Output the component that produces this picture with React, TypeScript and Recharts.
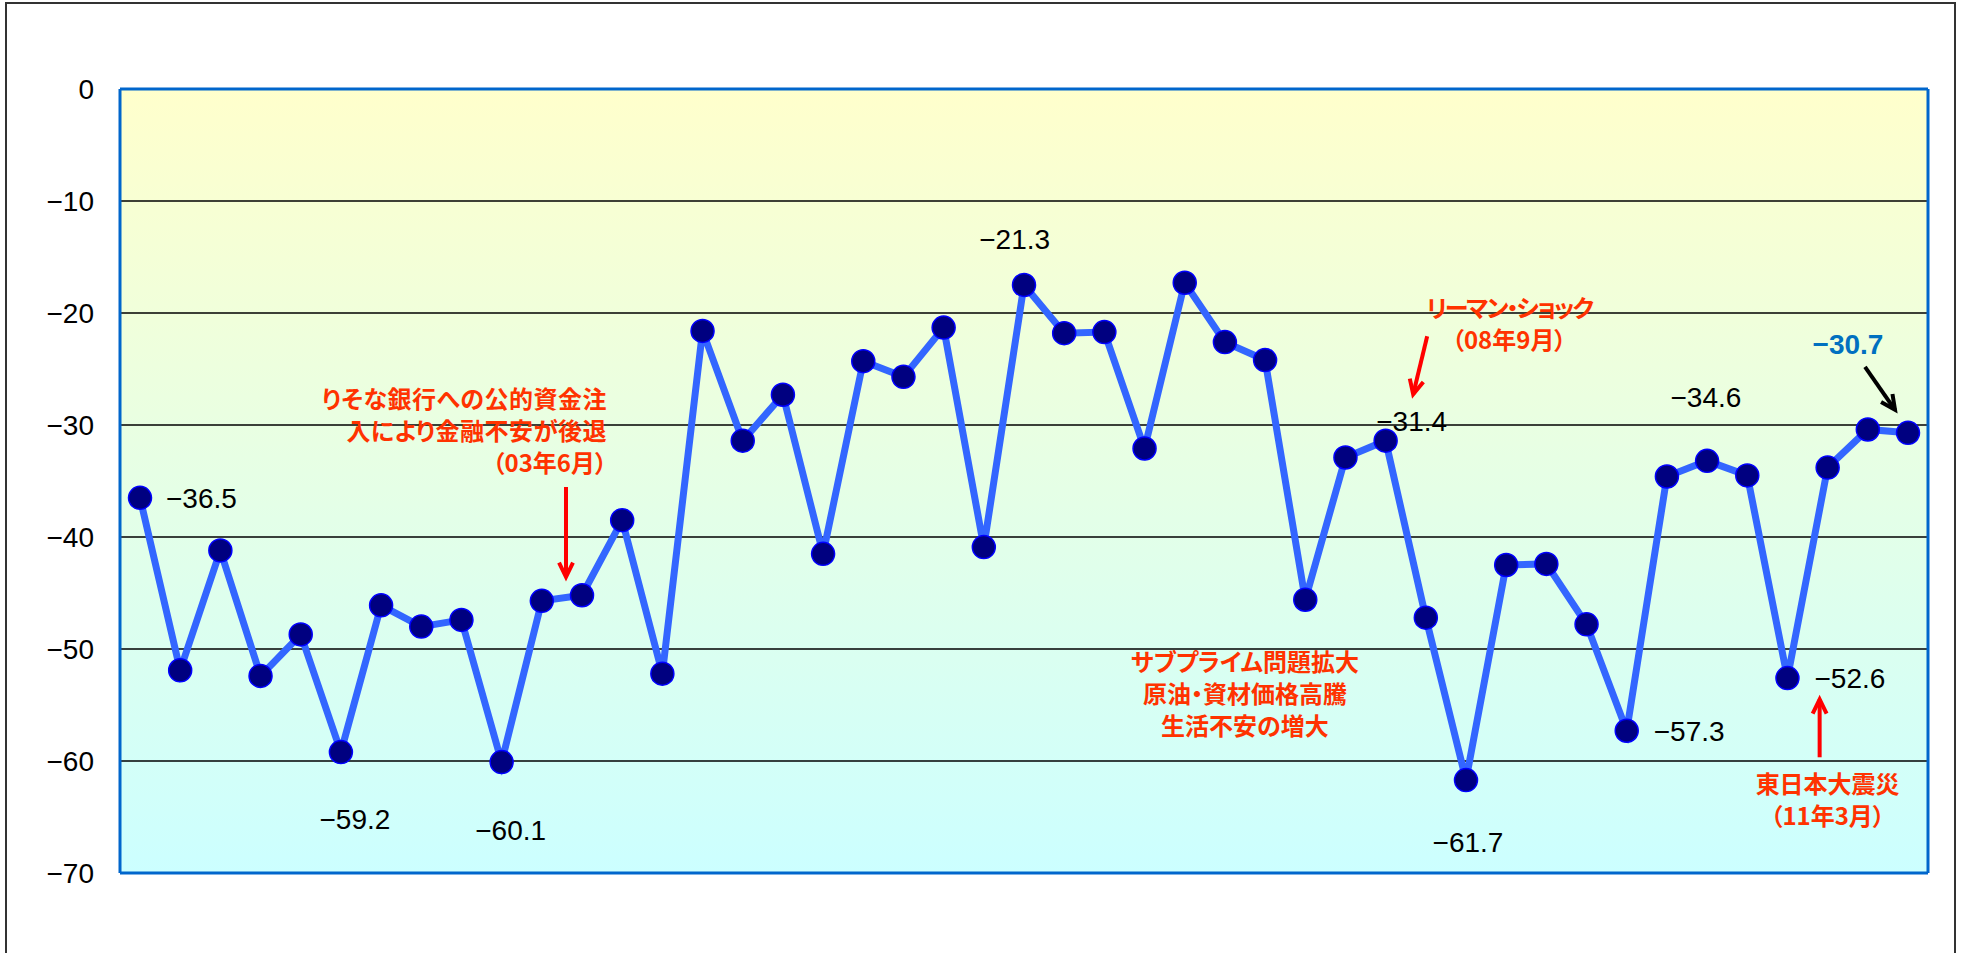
import React from 'react';
import {
  LineChart,
  Line,
  XAxis,
  YAxis,
  CartesianGrid,
  ReferenceDot,
  LabelList,
} from 'recharts';

// survey months (quarterly), x axis is not labelled in the picture
const periods = [
  '00年11月', '01年2月', '01年5月', '01年8月', '01年11月',
  '02年2月', '02年5月', '02年8月', '02年11月',
  '03年2月', '03年5月', '03年8月', '03年11月',
  '04年2月', '04年5月', '04年8月', '04年11月',
  '05年2月', '05年5月', '05年8月', '05年11月',
  '06年2月', '06年5月', '06年8月', '06年11月',
  '07年2月', '07年5月', '07年8月', '07年11月',
  '08年2月', '08年5月', '08年8月', '08年11月',
  '09年2月', '09年5月', '09年8月', '09年11月',
  '10年2月', '10年5月', '10年8月', '10年11月',
  '11年2月', '11年5月', '11年8月', '11年11月',
];

const values = [
  -36.5, -51.9, -41.2, -52.4, -48.7, -59.2, -46.1, -48.0, -47.4, -60.1,
  -45.7, -45.2, -38.5, -52.2, -21.6, -31.4, -27.3, -41.5, -24.3, -25.7,
  -21.3, -40.9, -17.5, -21.8, -21.7, -32.1, -17.3, -22.6, -24.2, -45.6,
  -32.9, -31.4, -47.2, -61.7, -42.5, -42.4, -47.8, -57.3, -34.6, -33.2,
  -34.5, -52.6, -33.8, -30.4, -30.7,
];

const yTicks = [0, -10, -20, -30, -40, -50, -60, -70];

// indexes of points whose value is printed
const labelledPoints = [0, 5, 9, 20, 31, 33, 37, 38, 41, 44];

// event notes: category, y value, lines
const notes = [
  { x: '03年8月', y: -27.5, lines: ['りそな銀行への公的資金注', '入により金融不安が後退', '（03年6月）'] },
  { x: '07年8月', y: -51.0, lines: ['サブプライム問題拡大', '原油・資材価格高騰', '生活不安の増大'] },
  { x: '09年5月', y: -19.4, lines: ['リーマン・ショック', '（08年9月）'] },
  { x: '11年5月', y: -61.9, lines: ['東日本大震災', '（11年3月）'] },
];

const data = periods.map((p, i) => ({ period: p, value: values[i] }));

const NUM_FONT = "'Liberation Sans', Arial, sans-serif";
const JP_FONT = "'Noto Sans CJK JP', 'Noto Sans', sans-serif";
const NOTE_RED = '#FF3300';
const FRAME_BLUE = '#0066CC';

const fmt = (v: number) => (v < 0 ? '\u2212' + Math.abs(v).toFixed(1) : v.toFixed(1));

// label placement relative to its point
const labelPos: Record<number, { dx: number; dy: number; anchor: string; color?: string; bold?: boolean }> = {
  0: { dx: 26, dy: 1, anchor: 'start' },
  5: { dx: 14, dy: 67, anchor: 'middle' },
  9: { dx: 9, dy: 68, anchor: 'middle' },
  20: { dx: 71, dy: -88, anchor: 'middle' },
  31: { dx: 26, dy: -19, anchor: 'middle' },
  33: { dx: 2, dy: 62, anchor: 'middle' },
  37: { dx: 27, dy: 1, anchor: 'start' },
  38: { dx: 39, dy: -79, anchor: 'middle' },
  41: { dx: 27, dy: 0, anchor: 'start' },
  44: { dx: -60, dy: -88, anchor: 'middle', color: '#0070C0', bold: true },
};

const ValueLabel = (props: any) => {
  const { x, y, index, value } = props;
  if (!labelledPoints.includes(index)) return null;
  const p = labelPos[index];
  return (
    <text
      x={x + p.dx}
      y={y + p.dy}
      textAnchor={p.anchor as any}
      dominantBaseline="central"
      fontFamily={NUM_FONT}
      fontSize={28}
      fontWeight={p.bold ? 'bold' : 'normal'}
      fill={p.color || '#000'}
    >
      {fmt(value)}
    </text>
  );
};

const Arrow = ({ x1, y1, x2, y2, color }: { x1: number; y1: number; x2: number; y2: number; color: string }) => {
  const a = Math.atan2(y2 - y1, x2 - x1);
  const h = 16;
  const s = 0.45;
  const p1 = [x2 - h * Math.cos(a - s), y2 - h * Math.sin(a - s)];
  const p2 = [x2 - h * Math.cos(a + s), y2 - h * Math.sin(a + s)];
  return (
    <g stroke={color} strokeWidth={4} fill="none">
      <line x1={x1} y1={y1} x2={x2} y2={y2} />
      <polyline points={`${p1[0]},${p1[1]} ${x2},${y2} ${p2[0]},${p2[1]}`} />
    </g>
  );
};

// layout of each note relative to its anchor
const noteLayout = [
  { dx: 25, anchor: 'end', spacing: [0.5, 0.5, 0], arrows: [{ x1: -16, y1: 90, x2: -16, y2: 180, color: '#FF0000' }] },
  { dx: 20, anchor: 'middle', spacing: [0, 0, 0], arrows: [] },
  { dx: 3, anchor: 'middle', spacing: [-2, 0], arrows: [{ x1: -79, y1: 30, x2: -93, y2: 88, color: '#FF0000' }] },
  { dx: 0, anchor: 'middle', spacing: [0, 0], arrows: [{ x1: -8, y1: -25, x2: -8, y2: -83, color: '#FF0000' }] },
];

const makeNote = (n: typeof notes[number], i: number) => (props: any) => {
  const { cx, cy } = props;
  const l = noteLayout[i];
  return (
    <g>
      {n.lines.map((t, k) => (
        <text
          key={k}
          x={cx + l.dx}
          y={cy + k * 32}
          textAnchor={l.anchor as any}
          dominantBaseline="central"
          fontFamily={JP_FONT}
          fontWeight="bold"
          fontSize={24}
          letterSpacing={l.spacing[k]}
          fill={NOTE_RED}
          style={{ fontFeatureSettings: '"palt"' }}
        >
          {t}
        </text>
      ))}
      {l.arrows.map((a, k) => (
        <Arrow key={k} x1={cx + a.x1} y1={cy + a.y1} x2={cx + a.x2} y2={cy + a.y2} color={a.color} />
      ))}
    </g>
  );
};

// black arrow pointing at the latest value
const latestArrow = (props: any) => {
  const { cx, cy } = props;
  return <Arrow x1={cx - 43} y1={cy - 66} x2={cx - 13} y2={cy - 23} color="#000" />;
};

const frameLine = { stroke: FRAME_BLUE, strokeWidth: 3 };

export default function App() {
  return (
    <div style={{ position: 'absolute', left: 0, top: 0, width: 1966, height: 953, background: '#fff', overflow: 'hidden' }}>
      <div
        style={{
          position: 'absolute',
          left: 5,
          top: 2,
          width: 1951,
          height: 990,
          border: '2px solid #333',
          boxSizing: 'border-box',
        }}
      />
      <div style={{ position: 'absolute', left: 0, top: 0 }}>
        <LineChart width={1966} height={953} data={data} margin={{ top: 88, right: 37, bottom: 79, left: 60 }}>
          <defs>
            <linearGradient id="plotBg" x1="0" y1="0" x2="0" y2="1">
              <stop offset="0%" stopColor="#FFFFCC" />
              <stop offset="100%" stopColor="#CCFFFF" />
            </linearGradient>
          </defs>
          <CartesianGrid vertical={false} stroke="#000" strokeWidth={1.3} fill="url(#plotBg)" fillOpacity={1} />
          <XAxis
            dataKey="period"
            padding={{ left: 20, right: 20 }}
            height={1}
            tick={false}
            tickLine={false}
            axisLine={frameLine}
          />
          <XAxis
            xAxisId="top"
            orientation="top"
            dataKey="period"
            height={1}
            tick={false}
            tickLine={false}
            axisLine={frameLine}
          />
          <YAxis
            width={60}
            domain={[-70, 0]}
            ticks={yTicks}
            interval={0}
            axisLine={frameLine}
            tickLine={false}
            tickSize={0}
            tickMargin={26}
            tick={{ fontFamily: NUM_FONT, fontSize: 28, fill: '#000' }}
            tickFormatter={(v: number) => (v < 0 ? '\u2212' + Math.abs(v) : String(v))}
          />
          <YAxis
            yAxisId="right"
            orientation="right"
            width={1}
            domain={[-70, 0]}
            tick={false}
            tickLine={false}
            axisLine={frameLine}
          />
          <Line
            type="linear"
            dataKey="value"
            stroke="#3366FF"
            strokeWidth={7}
            dot={{ r: 11.5, fill: '#000080', stroke: '#0000FF', strokeWidth: 1.5 }}
            activeDot={false}
            isAnimationActive={false}
          >
            <LabelList dataKey="value" content={ValueLabel} />
          </Line>
          {notes.map((n, i) => (
            <ReferenceDot key={i} x={n.x} y={n.y} r={0} ifOverflow="visible" shape={makeNote(n, i)} />
          ))}
          <ReferenceDot
            x={periods[periods.length - 1]}
            y={values[values.length - 1]}
            r={0}
            ifOverflow="visible"
            shape={latestArrow}
          />
        </LineChart>
      </div>
    </div>
  );
}
